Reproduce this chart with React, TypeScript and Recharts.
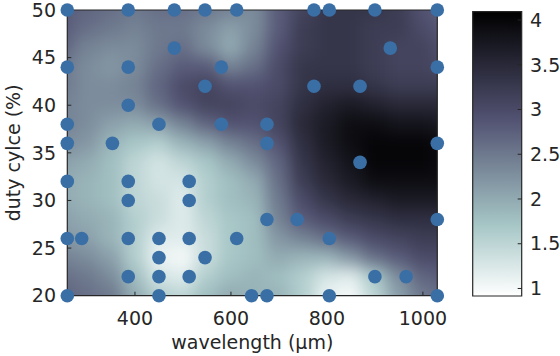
import React from 'react';
import { ComposedChart, Scatter, XAxis, YAxis, ReferenceArea, Label } from 'recharts';

// ---- axes / ticks ----
const xTicks = [400, 600, 800, 1000];
const yTicks = [20, 25, 30, 35, 40, 45, 50];
const cbTicks = [1, 1.5, 2, 2.5, 3, 3.5, 4];
const xDomain: [number, number] = [259, 1030];
const yDomain: [number, number] = [20, 50];
const cbDomain: [number, number] = [0.916, 4.093];

// ---- sampled points (wavelength, duty cycle) ----
const sampleWavelength = [
  259, 386, 482, 546, 612, 773, 805, 900, 1030,
  482, 932,
  259, 386, 580, 1030,
  546, 773, 869,
  386,
  259, 450, 580, 675,
  259, 353, 675, 1030,
  869,
  259, 386, 513,
  386, 513,
  675, 738, 1030,
  259, 289, 386, 450, 513, 612, 805,
  450, 546,
  386, 450, 513, 900, 965,
  259, 450, 643, 675, 805, 1030,
];
const sampleDuty = [
  50, 50, 50, 50, 50, 50, 50, 50, 50,
  46, 46,
  44, 44, 44, 44,
  42, 42, 42,
  40,
  38, 38, 38, 38,
  36, 36, 36, 36,
  34,
  32, 32, 32,
  30, 30,
  28, 28, 28,
  26, 26, 26, 26, 26, 26, 26,
  24, 24,
  22, 22, 22, 22, 22,
  20, 20, 20, 20, 20, 20,
];

// ---- background field ----
const gridWavelength = [250, 300, 350, 400, 450, 500, 550, 600, 650, 700, 750, 800, 850, 900, 950, 1000, 1050];
const gridDuty = [50, 48, 46, 44, 42, 40, 38, 36, 34, 32, 30, 28, 26, 24, 22, 20];
const row50 = [2.8, 2.7, 2.6, 2.5, 2.6, 2.6, 2.5, 2.4, 2.3, 2.8, 3.1, 3.3, 3.3, 3.3, 3.2, 2.9, 2.7];
const row48 = [2.8, 2.6, 2.5, 2.4, 2.5, 2.5, 2.3, 2.1, 2.3, 2.8, 3.2, 3.3, 3.3, 3.2, 3.2, 3.0, 2.8];
const row46 = [2.7, 2.4, 2.3, 2.3, 2.5, 2.6, 2.3, 2.0, 2.4, 2.9, 3.2, 3.3, 3.3, 3.2, 3.1, 3.1, 2.9];
const row44 = [2.5, 2.3, 2.2, 2.3, 2.6, 2.8, 2.8, 2.4, 2.6, 3.0, 3.3, 3.3, 3.3, 3.2, 3.1, 3.1, 3.0];
const row42 = [2.5, 2.3, 2.3, 2.4, 2.7, 3.0, 3.1, 2.9, 2.9, 3.0, 3.3, 3.4, 3.4, 3.3, 3.2, 3.2, 3.2];
const row40 = [2.4, 2.3, 2.3, 2.3, 2.6, 2.9, 3.1, 3.1, 3.0, 3.1, 3.4, 3.6, 3.7, 3.6, 3.5, 3.5, 3.5];
const row38 = [2.4, 2.3, 2.1, 2.0, 2.1, 2.4, 2.7, 2.9, 2.9, 3.1, 3.5, 3.7, 3.9, 3.9, 3.8, 3.8, 3.7];
const row36 = [2.3, 2.2, 1.9, 1.7, 1.6, 1.9, 2.1, 2.4, 2.6, 2.9, 3.4, 3.7, 3.9, 4.0, 4.0, 4.0, 3.9];
const row34 = [2.1, 2.0, 1.8, 1.5, 1.3, 1.5, 1.7, 2.0, 2.3, 2.7, 3.3, 3.6, 3.8, 4.0, 4.0, 4.0, 3.9];
const row32 = [2.0, 1.9, 1.8, 1.5, 1.3, 1.3, 1.6, 1.8, 2.0, 2.6, 3.2, 3.5, 3.7, 3.9, 3.9, 3.9, 3.9];
const row30 = [2.0, 1.9, 1.8, 1.5, 1.4, 1.2, 1.6, 1.8, 1.9, 2.5, 3.0, 3.3, 3.5, 3.6, 3.7, 3.7, 3.7];
const row28 = [2.1, 2.0, 1.9, 1.6, 1.4, 1.2, 1.5, 1.7, 1.8, 2.4, 2.8, 3.0, 3.2, 3.3, 3.4, 3.4, 3.4];
const row26 = [2.2, 2.1, 1.9, 1.6, 1.2, 1.2, 1.4, 1.7, 1.8, 2.2, 2.4, 2.6, 2.8, 3.0, 3.1, 3.2, 3.2];
const row24 = [2.4, 2.3, 2.1, 1.6, 1.1, 1.0, 1.4, 1.7, 1.8, 2.0, 1.9, 1.9, 2.2, 2.6, 2.8, 3.0, 3.0];
const row22 = [2.6, 2.5, 2.3, 1.8, 1.3, 1.2, 1.6, 1.8, 1.9, 1.8, 1.6, 1.3, 1.2, 1.7, 2.3, 2.7, 2.8];
const row20 = [2.7, 2.6, 2.5, 2.0, 1.6, 1.5, 1.8, 2.0, 1.9, 1.9, 1.6, 1.1, 1.0, 1.5, 2.1, 2.5, 2.6];
const gridRows = [row50, row48, row46, row44, row42, row40, row38, row36, row34, row32, row30, row28, row26, row24, row22, row20];

// ---- colour map (reversed "bone") ----
const boneStops: [number, number, number, number][] = [
  [0, 0, 0, 0],
  [0.375, 0.3194, 0.3194, 0.4444],
  [0.75, 0.6528, 0.7778, 0.7778],
  [1, 1, 1, 1],
];
function boneAt(t: number): string {
  const tt = Math.max(0, Math.min(1, t));
  for (let i = 0; i < boneStops.length - 1; i++) {
    const a = boneStops[i];
    const b = boneStops[i + 1];
    if (tt <= b[0]) {
      const f = (tt - a[0]) / (b[0] - a[0]);
      const c = [1, 2, 3].map((k) => Math.round(255 * (a[k] + (b[k] - a[k]) * f)));
      return `rgb(${c[0]},${c[1]},${c[2]})`;
    }
  }
  return 'rgb(255,255,255)';
}
function valueColor(v: number): string {
  return boneAt((cbDomain[1] - v) / (cbDomain[1] - cbDomain[0]));
}

const points = sampleWavelength.map((wl, i) => ({ wl, dc: sampleDuty[i] }));
const heatData = gridRows.flatMap((row, r) =>
  row.map((z, c) => ({ wl: gridWavelength[c], dc: gridDuty[r], z, r, c }))
);

// layout
const W = 560;
const H = 356;
const PLOT_LEFT = 67.3;
const PLOT_RIGHT = 437.3;
const PLOT_TOP = 10;
const PLOT_BOTTOM = 295.7;
const PLOT_W = PLOT_RIGHT - PLOT_LEFT;
const PLOT_H = PLOT_BOTTOM - PLOT_TOP;
const cellW = ((gridWavelength[1] - gridWavelength[0]) * PLOT_W) / (xDomain[1] - xDomain[0]);
const cellH = ((gridDuty[0] - gridDuty[1]) * PLOT_H) / (yDomain[1] - yDomain[0]);
const EXT = 40;

const TEXT = '#262626';
const FONT = 'DejaVu Sans';
const DOT = '#3a6fa6';

const HeatCell = (props: any) => {
  const { cx, cy, payload } = props;
  if (cx == null || cy == null) return null;
  let x0 = cx - cellW / 2;
  let x1 = cx + cellW / 2;
  let y0 = cy - cellH / 2;
  let y1 = cy + cellH / 2;
  if (payload.c === 0) x0 -= EXT;
  if (payload.c === gridWavelength.length - 1) x1 += EXT;
  if (payload.r === 0) y0 -= EXT;
  if (payload.r === gridDuty.length - 1) y1 += EXT;
  return (
    <rect x={x0 - 0.5} y={y0 - 0.5} width={x1 - x0 + 1} height={y1 - y0 + 1} fill={valueColor(payload.z)} stroke="none" />
  );
};

const Dot = (props: any) => {
  const { cx, cy } = props;
  if (cx == null || cy == null) return null;
  return <circle cx={cx} cy={cy} r={6.8} fill={DOT} />;
};

const tickStyle = { fontSize: 19, fill: TEXT, fontFamily: FONT };
const heatExtra: any = { zIndex: 50 };

export default function App() {
  return (
    <div style={{ position: 'absolute', left: 0, top: 0, width: W, height: H, background: '#fff' }}>
      <style>{`.heat-layer { filter: url(#heatBlur); }`}</style>
      <svg width={0} height={0} style={{ position: 'absolute' }}>
        <defs>
          <filter id="heatBlur" x="-10%" y="-10%" width="120%" height="120%" colorInterpolationFilters="sRGB">
            <feGaussianBlur stdDeviation={8} />
          </filter>
          <linearGradient id="cbGrad" x1="0" y1="0" x2="0" y2="1">
            {boneStops.map((s) => (
              <stop key={s[0]} offset={s[0]} stopColor={boneAt(s[0])} />
            ))}
          </linearGradient>
        </defs>
      </svg>

      <div style={{ position: 'absolute', left: 0, top: 0 }}>
        <ComposedChart
          width={W}
          height={H}
          margin={{ top: PLOT_TOP - 1, right: W - PLOT_RIGHT - 1, bottom: H - PLOT_BOTTOM - 60, left: 0 }}
        >
          <XAxis xAxisId="hx" dataKey="wl" type="number" domain={xDomain} allowDataOverflow hide height={0} />
          <YAxis yAxisId="hy" dataKey="dc" type="number" domain={yDomain} allowDataOverflow hide width={0} />
          <Scatter
            className="heat-layer"
            xAxisId="hx"
            yAxisId="hy"
            data={heatData}
            shape={HeatCell}
            isAnimationActive={false}
            {...heatExtra}
          />
          <XAxis
            xAxisId="main"
            dataKey="wl"
            type="number"
            domain={xDomain}
            ticks={xTicks}
            interval={0}
            height={60}
            tickSize={-4}
            tickMargin={19.5}
            axisLine={{ stroke: TEXT, strokeWidth: 1.2 }}
            tickLine={{ stroke: TEXT }}
            tick={tickStyle}
          >
            <Label
              content={(p: any) => {
                const vb = p.viewBox || {};
                return (
                  <text x={vb.x + vb.width / 2} y={349} textAnchor="middle" fontSize={19} fill={TEXT} fontFamily={FONT}>
                    wavelength (µm)
                  </text>
                );
              }}
            />
          </XAxis>
          <YAxis
            yAxisId="main"
            dataKey="dc"
            type="number"
            domain={yDomain}
            ticks={yTicks}
            interval={0}
            width={PLOT_LEFT}
            tickSize={-4}
            tickMargin={15.3}
            axisLine={{ stroke: TEXT, strokeWidth: 1.2 }}
            tickLine={{ stroke: TEXT }}
            tick={tickStyle}
          >
            <Label
              content={(p: any) => {
                const vb = p.viewBox || {};
                const cy = vb.y + vb.height / 2;
                return (
                  <text
                    transform={`translate(19.5, ${cy}) rotate(-90)`}
                    textAnchor="middle"
                    fontSize={19}
                    fill={TEXT}
                    fontFamily={FONT}
                  >
                    duty cylce (%)
                  </text>
                );
              }}
            />
          </YAxis>
          <XAxis
            xAxisId="top"
            orientation="top"
            type="number"
            domain={xDomain}
            ticks={xTicks}
            interval={0}
            height={1}
            tickSize={-4}
            tick={false}
            axisLine={{ stroke: TEXT, strokeWidth: 1.2 }}
            tickLine={{ stroke: TEXT }}
          />
          <YAxis
            yAxisId="right"
            orientation="right"
            type="number"
            domain={yDomain}
            ticks={yTicks}
            interval={0}
            width={1}
            tickSize={-4}
            tick={false}
            axisLine={{ stroke: TEXT, strokeWidth: 1.2 }}
            tickLine={{ stroke: TEXT }}
          />
          <Scatter
            xAxisId="main"
            yAxisId="main"
            data={points}
            shape={Dot}
            isAnimationActive={false}
          />
        </ComposedChart>
      </div>

      <div style={{ position: 'absolute', left: 0, top: 0 }}>
        <ComposedChart
          width={W}
          height={H}
          data={[{ u: 0 }, { u: 1 }]}
          margin={{ top: 11.7, right: 0, bottom: H - 296, left: 472.7 }}
        >
          <XAxis xAxisId="cbx" type="number" dataKey="u" domain={[0, 1]} hide height={0} />
          <ReferenceArea
            xAxisId="cbx"
            yAxisId="cb"
            x1={0}
            x2={1}
            y1={cbDomain[0]}
            y2={cbDomain[1]}
            fill="url(#cbGrad)"
            fillOpacity={1}
            stroke={TEXT}
            strokeWidth={1.2}
            ifOverflow="visible"
          />
          <YAxis
            yAxisId="cb"
            orientation="right"
            type="number"
            domain={cbDomain}
            allowDataOverflow
            ticks={cbTicks}
            interval={0}
            width={W - 521.7}
            tickSize={-4}
            tickMargin={12.3}
            axisLine={false}
            tickLine={{ stroke: TEXT }}
            tick={tickStyle}
          />
        </ComposedChart>
      </div>
    </div>
  );
}
